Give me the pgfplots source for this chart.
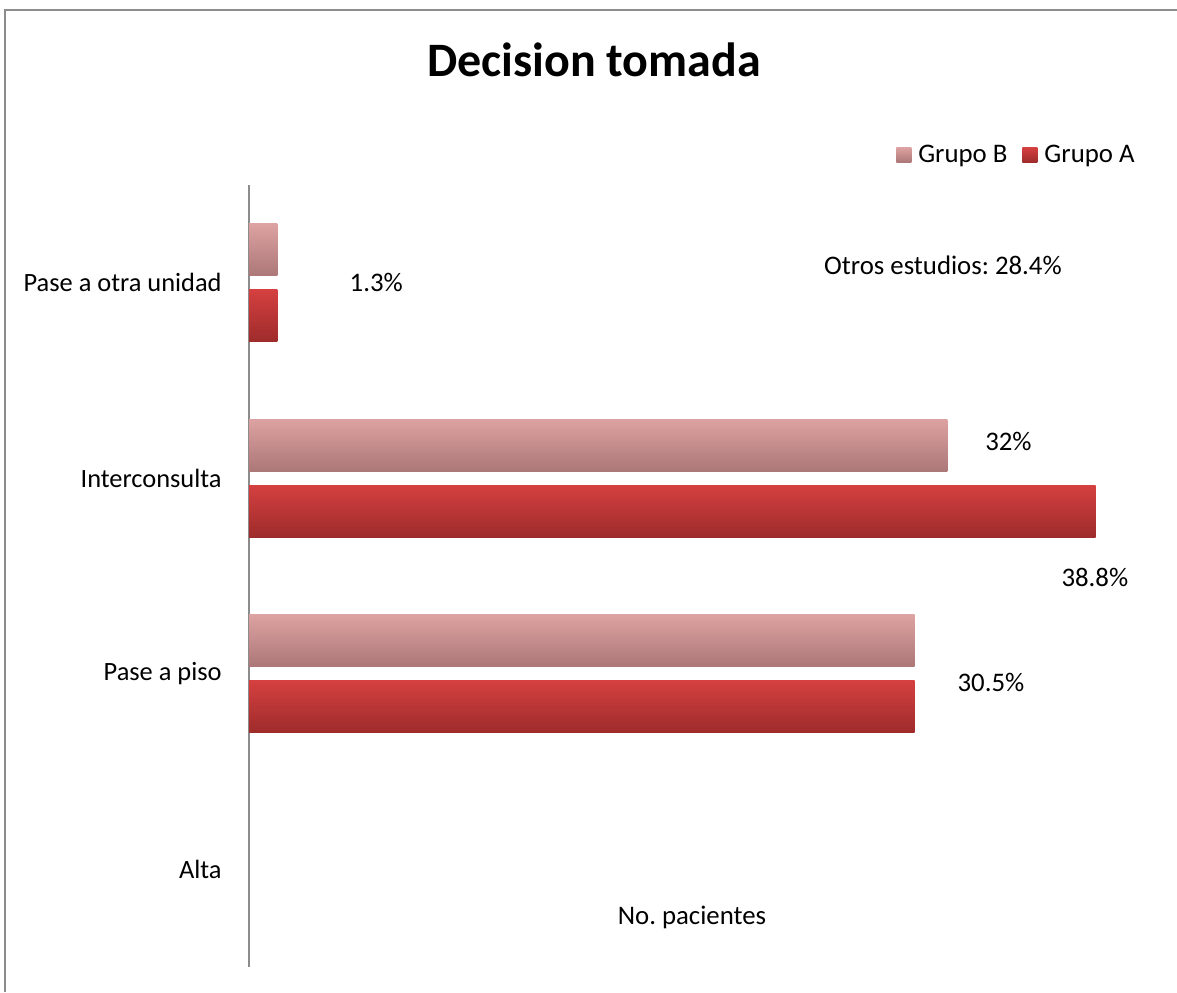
\documentclass[border=0pt]{standalone}
\usepackage{fontspec}
\setmainfont{Carlito}
\usepackage{pgfplots}
\pgfplotsset{compat=1.18}
\frenchspacing
\definecolor{Btop}{HTML}{DDA2A2}
\definecolor{Bbot}{HTML}{AC7777}
\definecolor{Atop}{HTML}{D54040}
\definecolor{Abot}{HTML}{9E2B2B}
\definecolor{framegray}{HTML}{8C8C8C}
\pgfplotsset{
  grupoB/.style={draw=none, top color=Btop, bottom color=Bbot, bar shift=16.5pt},
  grupoA/.style={draw=none, top color=Atop, bottom color=Abot, bar shift=-16.5pt},
}
\begin{document}
\begin{tikzpicture}
\useasboundingbox (0,0) rectangle (588.5pt,496pt);
\draw[framegray, line width=1.2pt] (2.5pt,0pt) -- (2.5pt,491pt) -- (588.5pt,491pt);
\node[font=\fontsize{24}{28}\selectfont\bfseries] at (297pt,466pt) {Decision tomada};
\begin{axis}[
  at={(124.5pt,12.5pt)}, anchor=south west,
  scale only axis, width=443pt, height=391pt,
  xbar, bar width=26pt,
  xmin=0, xmax=40.6, ymin=-0.5, ymax=3.5,
  axis x line=none, axis y line*=left,
  axis line style={draw=framegray, line width=0.8pt},
  ytick={0,1,2,3},
  yticklabels={Alta, Pase a piso, Interconsulta, Pase a otra unidad},
  major tick length=0pt,
  yticklabel style={font=\fontsize{13.2}{16}\selectfont, inner sep=0pt, xshift=-13.5pt},
  clip=false,
  legend columns=2,
  legend style={at={(1.0,1)}, anchor=east, yshift=15pt, draw=none, fill=none,
    inner sep=0pt, font=\fontsize{13.4}{16}\selectfont,
    nodes={inner sep=0pt},
    /tikz/every odd column/.append style={column sep=3.5pt},
    /tikz/every even column/.append style={column sep=7.5pt}},
  legend image code/.code={\path[#1] (0pt,-3.75pt) rectangle (7.5pt,3.75pt);},
]
% Grupo B
\addplot[grupoB] coordinates {(1.3,3)};
\addlegendentry{Grupo B}
% Grupo A
\addplot[grupoA] coordinates {(1.3,3)};
\addlegendentry{Grupo A}
\addplot[grupoB, forget plot] coordinates {(32,2)};
\addplot[grupoB, forget plot] coordinates {(30.5,1)};
\addplot[grupoB, forget plot] coordinates {(0,0)};
\addplot[grupoA, forget plot] coordinates {(38.8,2)};
\addplot[grupoA, forget plot] coordinates {(30.5,1)};
\addplot[grupoA, forget plot] coordinates {(0,0)};
\begin{scope}[font=\fontsize{13.4}{16}\selectfont]
\node at (axis cs:5.83,3.0) {1.3\%};
\node at (axis cs:34.8,2.19) {32\%};
\node at (axis cs:38.76,1.495) {38.8\%};
\node at (axis cs:34.0,0.953) {30.5\%};
\node at (axis cs:31.8,3.09) {Otros estudios: 28.4\%};
\node at (axis cs:20.3,-0.249) {No. pacientes};
\end{scope}
\end{axis}
\end{tikzpicture}
\end{document}
